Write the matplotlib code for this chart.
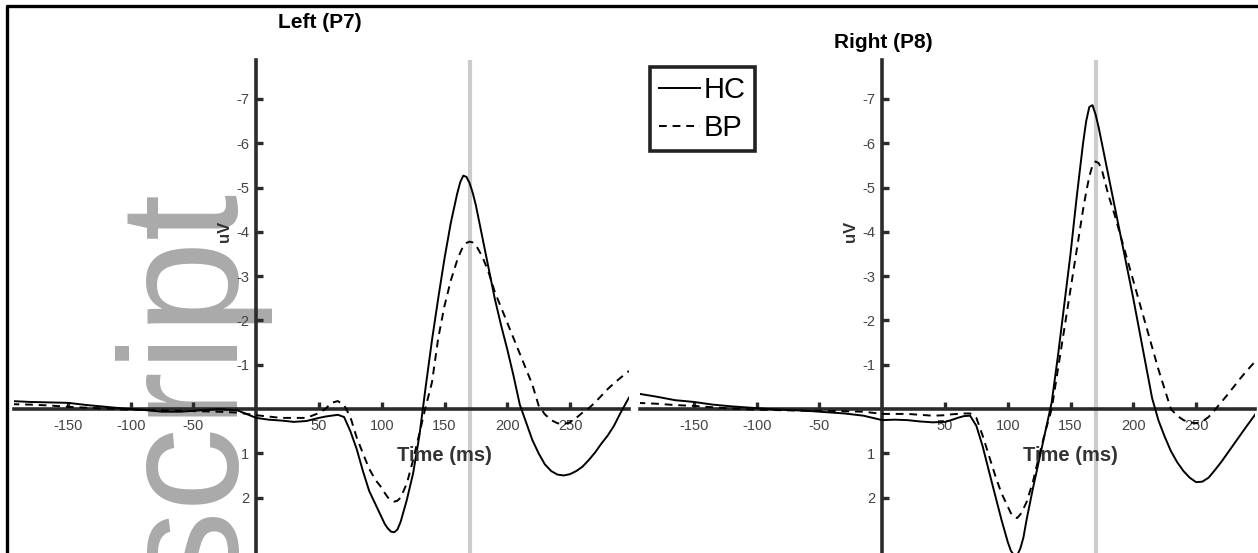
import matplotlib
matplotlib.use("Agg")
import matplotlib.pyplot as plt
from matplotlib.lines import Line2D

plt.rcParams['font.family'] = ['Liberation Sans', 'DejaVu Sans']

time_ms = [-195, -180, -165, -150, -135, -120, -105, -90, -75, -60, -45, -30, -15, 0,
           10, 20, 30, 40, 50, 55, 60, 65, 70, 75, 80, 85, 90, 95, 100, 102.5, 105, 107.5,
           110, 112.5, 115, 120, 125, 130, 135, 140, 145, 150, 155, 160, 162.5, 165, 167.5,
           170, 172.5, 175, 180, 185, 190, 195, 200, 205, 210, 215, 220, 225, 230, 235, 240,
           245, 250, 255, 260, 265, 270, 275, 280, 285, 290, 297]

# Left (P7)
left_hc = [-0.18, -0.16, -0.15, -0.14, -0.09, -0.05, -0.01, 0.02, 0.06, 0.06, 0.03, 0.0, 0.03, 0.2,
           0.24, 0.26, 0.29, 0.27, 0.2, 0.17, 0.15, 0.13, 0.18, 0.5, 0.9, 1.4, 1.85, 2.15, 2.45, 2.6, 2.7, 2.77,
           2.78, 2.72, 2.55, 2.05, 1.45, 0.6, -0.5, -1.55, -2.5, -3.4, -4.2, -4.85, -5.12, -5.27, -5.24,
           -5.1, -4.88, -4.6, -3.9, -3.2, -2.5, -1.9, -1.35, -0.75, -0.1, 0.3, 0.7, 1.0, 1.25, 1.4, 1.48,
           1.5, 1.47, 1.4, 1.3, 1.15, 0.98, 0.78, 0.6, 0.38, 0.1, -0.26]
left_bp = [-0.11, -0.1, -0.08, -0.05, -0.03, -0.01, 0.01, 0.02, 0.03, 0.04, 0.05, 0.06, 0.08, 0.14,
           0.17, 0.2, 0.2, 0.2, 0.09, 0.0, -0.14, -0.18, -0.09, 0.18, 0.64, 1.0, 1.35, 1.6, 1.78, 1.9, 2.0, 2.06,
           2.09, 2.07, 2.0, 1.68, 1.15, 0.55, -0.05, -0.6, -1.6, -2.33, -2.9, -3.35, -3.53, -3.68, -3.75,
           -3.78, -3.76, -3.7, -3.45, -3.1, -2.65, -2.3, -1.95, -1.6, -1.25, -0.9, -0.55, -0.08, 0.12, 0.25, 0.32,
           0.34, 0.3, 0.2, 0.08, -0.02, -0.15, -0.3, -0.45, -0.58, -0.7, -0.86]

# Right (P8)
right_hc = [-0.35, -0.28, -0.2, -0.16, -0.1, -0.06, -0.03, 0.0, 0.02, 0.04, 0.07, 0.1, 0.15, 0.25,
            0.24, 0.25, 0.28, 0.3, 0.29, 0.25, 0.2, 0.16, 0.15, 0.38, 0.84, 1.4, 1.95, 2.5, 3.0, 3.2, 3.3, 3.3,
            3.15, 2.9, 2.5, 1.8, 1.15, 0.5, -0.15, -1.2, -2.35, -3.5, -4.8, -6.0, -6.5, -6.82, -6.86,
            -6.65, -6.35, -6.0, -5.3, -4.6, -3.9, -3.2, -2.5, -1.75, -1.0, -0.25, 0.25, 0.62, 0.95, 1.2, 1.4,
            1.55, 1.65, 1.64, 1.55, 1.38, 1.2, 1.0, 0.8, 0.6, 0.4, 0.13]
right_bp = [-0.14, -0.12, -0.09, -0.07, -0.04, -0.01, 0.01, 0.02, 0.03, 0.04, 0.04, 0.05, 0.06, 0.11,
            0.11, 0.11, 0.13, 0.15, 0.14, 0.12, 0.11, 0.1, 0.1, 0.2, 0.6, 1.05, 1.5, 1.9, 2.2, 2.35, 2.44, 2.46,
            2.38, 2.25, 2.1, 1.65, 1.05, 0.5, 0.0, -0.9, -1.8, -2.7, -3.6, -4.5, -4.9, -5.25, -5.5,
            -5.59, -5.55, -5.4, -4.85, -4.4, -3.9, -3.4, -2.9, -2.4, -1.9, -1.4, -0.9, -0.45, 0.0, 0.15, 0.25,
            0.3, 0.32, 0.28, 0.18, 0.02, -0.15, -0.32, -0.5, -0.68, -0.85, -1.07]

x_ticks = [-150, -100, -50, 50, 100, 150, 200, 250]
y_ticks = [-7, -6, -5, -4, -3, -2, -1, 1, 2]
marker_time = 170

W, H = 1258, 553
fig = plt.figure(figsize=(W / 100, H / 100), dpi=100)

# watermark behind everything
fig.text(233 / W, 1 - 590 / H, 'script', rotation=90, rotation_mode='anchor',
         ha='left', va='baseline', fontsize=121, color='#aaaaaa', zorder=-5)

# frame around the figure (left and top edges visible)
fig.add_artist(Line2D([7 / W, 7 / W, 1.0], [0.0, 1 - 6 / H, 1 - 6 / H],
                      transform=fig.transFigure, color='black', lw=2.4))

dark = '#2b2b2b'


def panel(x0, x1, hc, bp):
    ax = fig.add_axes([x0 / W, 0.0, (x1 - x0) / W, 1 - 60 / H])
    ax.set_facecolor('none')
    ax.axvline(marker_time, color='#cccccc', lw=3, zorder=1)
    l1, = ax.plot(time_ms, hc, color='black', lw=1.4, zorder=3, label='HC')
    l2, = ax.plot(time_ms, bp, color='black', lw=1.4, ls=(0, (4, 3)), zorder=3, label='BP')
    ax.set_xlim(-193, 297)
    ax.set_ylim(3.25, -7.88)
    for s in ['top', 'right']:
        ax.spines[s].set_visible(False)
    for s in ['left', 'bottom']:
        ax.spines[s].set_position(('data', 0))
        ax.spines[s].set_color(dark)
        ax.spines[s].set_linewidth(2.6)
        ax.spines[s].set_zorder(2)
    ax.set_xticks(x_ticks)
    ax.set_xticklabels([str(v) for v in x_ticks])
    ax.set_yticks(y_ticks)
    ax.set_yticklabels([str(v) for v in y_ticks])
    ax.tick_params(direction='in', length=5, width=2.4, color=dark,
                   labelsize=10.5, labelcolor='#444444')
    ax.tick_params(axis='x', pad=7)
    ax.tick_params(axis='y', pad=5)
    ax.text(-25, -4, 'uV', rotation=90, ha='center', va='center',
            fontsize=12, fontweight='bold', color='#333333')
    ax.text(150, 1.04, 'Time (ms)', ha='center', va='center',
            fontsize=14.5, fontweight='bold', color='#333333', zorder=4)
    return ax, l1, l2


ax1, _, _ = panel(14, 629, left_hc, left_bp)
ax2, h1, h2 = panel(640, 1255, right_hc, right_bp)

fig.text(320 / W, 1 - 22 / H, 'Left (P7)', ha='center', va='center',
         fontsize=15, fontweight='bold')
fig.text(883 / W, 1 - 42 / H, 'Right (P8)', ha='center', va='center',
         fontsize=15, fontweight='bold')

leg = fig.legend(handles=[h1, h2], labels=['HC', 'BP'], loc='upper left',
                 bbox_to_anchor=(650 / W, 1 - 67 / H), bbox_transform=fig.transFigure,
                 frameon=True, fancybox=False, edgecolor='#222222', framealpha=1,
                 fontsize=21, handlelength=1.4, handletextpad=0.15, borderpad=0.3,
                 labelspacing=0.35, borderaxespad=0)
leg.get_frame().set_linewidth(2.6)

fig.savefig('out.png', dpi=100)
